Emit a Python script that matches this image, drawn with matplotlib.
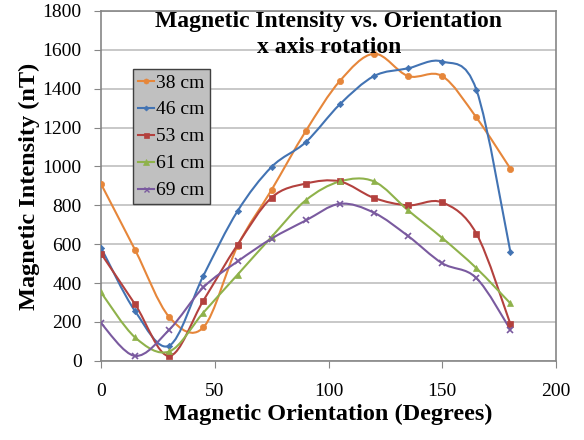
import matplotlib.pyplot as plt
import numpy as np
from matplotlib.path import Path
from matplotlib.patches import PathPatch

plt.rcParams['font.family'] = ['Liberation Serif', 'DejaVu Serif']

# angoli misurati (gradi)
angoli = [0, 15, 30, 45, 60, 75, 90, 105, 120, 135, 150, 165, 180]

# intensita' per ogni distanza (nT)
d38 = [910, 570, 225, 172, 590, 880, 1182, 1440, 1580, 1465, 1465, 1252, 988]
d46 = [582, 255, 78, 438, 770, 998, 1125, 1320, 1465, 1505, 1540, 1395, 558]
d53 = [552, 290, 25, 310, 597, 840, 912, 923, 838, 800, 815, 655, 188]
d61 = [352, 120, 48, 248, 443, 638, 826, 923, 923, 774, 632, 477, 295]
d69 = [193, 25, 160, 378, 511, 629, 722, 808, 762, 642, 502, 426, 160]

serie = [
    ("38 cm", d38, "#e6863a", "o", 4.5),
    ("46 cm", d46, "#4273b3", "D", 3.2),
    ("53 cm", d53, "#b3413e", "s", 4.5),
    ("61 cm", d61, "#8fb24b", "^", 5),
    ("69 cm", d69, "#7a5a9f", "x", 4.5),
]


# curva liscia tipo Excel (Bezier con tangenti Catmull-Rom)
def curva_liscia(x, y):
    P = np.column_stack([x, y]).astype(float)
    n = len(P)
    verts = [P[0]]
    codes = [Path.MOVETO]
    for i in range(n - 1):
        p0 = P[i - 1] if i > 0 else P[i]
        p1 = P[i]
        p2 = P[i + 1]
        p3 = P[i + 2] if i + 2 < n else P[i + 1]
        c1 = p1 + (p2 - p0) / 6.0
        c2 = p2 - (p3 - p1) / 6.0
        verts += [c1, c2, p2]
        codes += [Path.CURVE4] * 3
    return Path(verts, codes)


fig = plt.figure(figsize=(5.84, 4.4), dpi=100)
ax = fig.add_axes([0.173, 0.180, 0.779, 0.795])

for nome, y, col, mk, ms in serie:
    ax.add_patch(PathPatch(curva_liscia(angoli, y), fill=False, edgecolor=col, lw=1.5, zorder=3))
    ax.plot(angoli, y, linestyle='none', marker=mk, color=col, markersize=ms,
            markeredgewidth=1.2 if mk == 'x' else 0.5, zorder=4)
    # voce di legenda (linea + marker)
    ax.plot([], [], color=col, lw=1.5, marker=mk, markersize=ms * 0.8,
            markeredgewidth=1.0 if mk == 'x' else 0.5, label=nome)

ax.set_xlim(0, 200)
ax.set_ylim(0, 1800)
ax.set_xticks(np.arange(0, 201, 50))
ax.set_yticks(np.arange(0, 1801, 200))
ax.yaxis.grid(True, color='#bfbfbf', lw=1.2)
ax.set_axisbelow(True)
for s in ax.spines.values():
    s.set_color('#868686')
    s.set_linewidth(1.2)
ax.tick_params(direction='out', length=5, color='#868686', labelsize=14)
ax.tick_params(axis='x', pad=11)
ax.tick_params(axis='y', pad=9)

ax.set_xlabel("Magnetic Orientation (Degrees)", fontsize=17.5, fontweight='bold', labelpad=3)
ax.set_ylabel("Magnetic Intensity (nT)", fontsize=17.5, fontweight='bold', labelpad=2)

# titolo su due righe, dentro l'area del grafico
ax.text(0.501, 0.954, "Magnetic Intensity vs. Orientation", transform=ax.transAxes,
        ha='center', va='baseline', fontsize=17, fontweight='bold', zorder=5)
ax.text(0.501, 0.880, "x axis rotation", transform=ax.transAxes,
        ha='center', va='baseline', fontsize=17, fontweight='bold', zorder=5)

leg = ax.legend(loc='upper left', bbox_to_anchor=(0.0705, 0.834), borderaxespad=0,
                fontsize=14, handlelength=0.85, handletextpad=0.1, labelspacing=0.48,
                borderpad=0.25, fancybox=False, framealpha=1)
leg.get_frame().set_facecolor('#c0c0c0')
leg.get_frame().set_edgecolor('#404040')
leg.get_frame().set_linewidth(1.0)

plt.savefig("out.png", dpi=100)
